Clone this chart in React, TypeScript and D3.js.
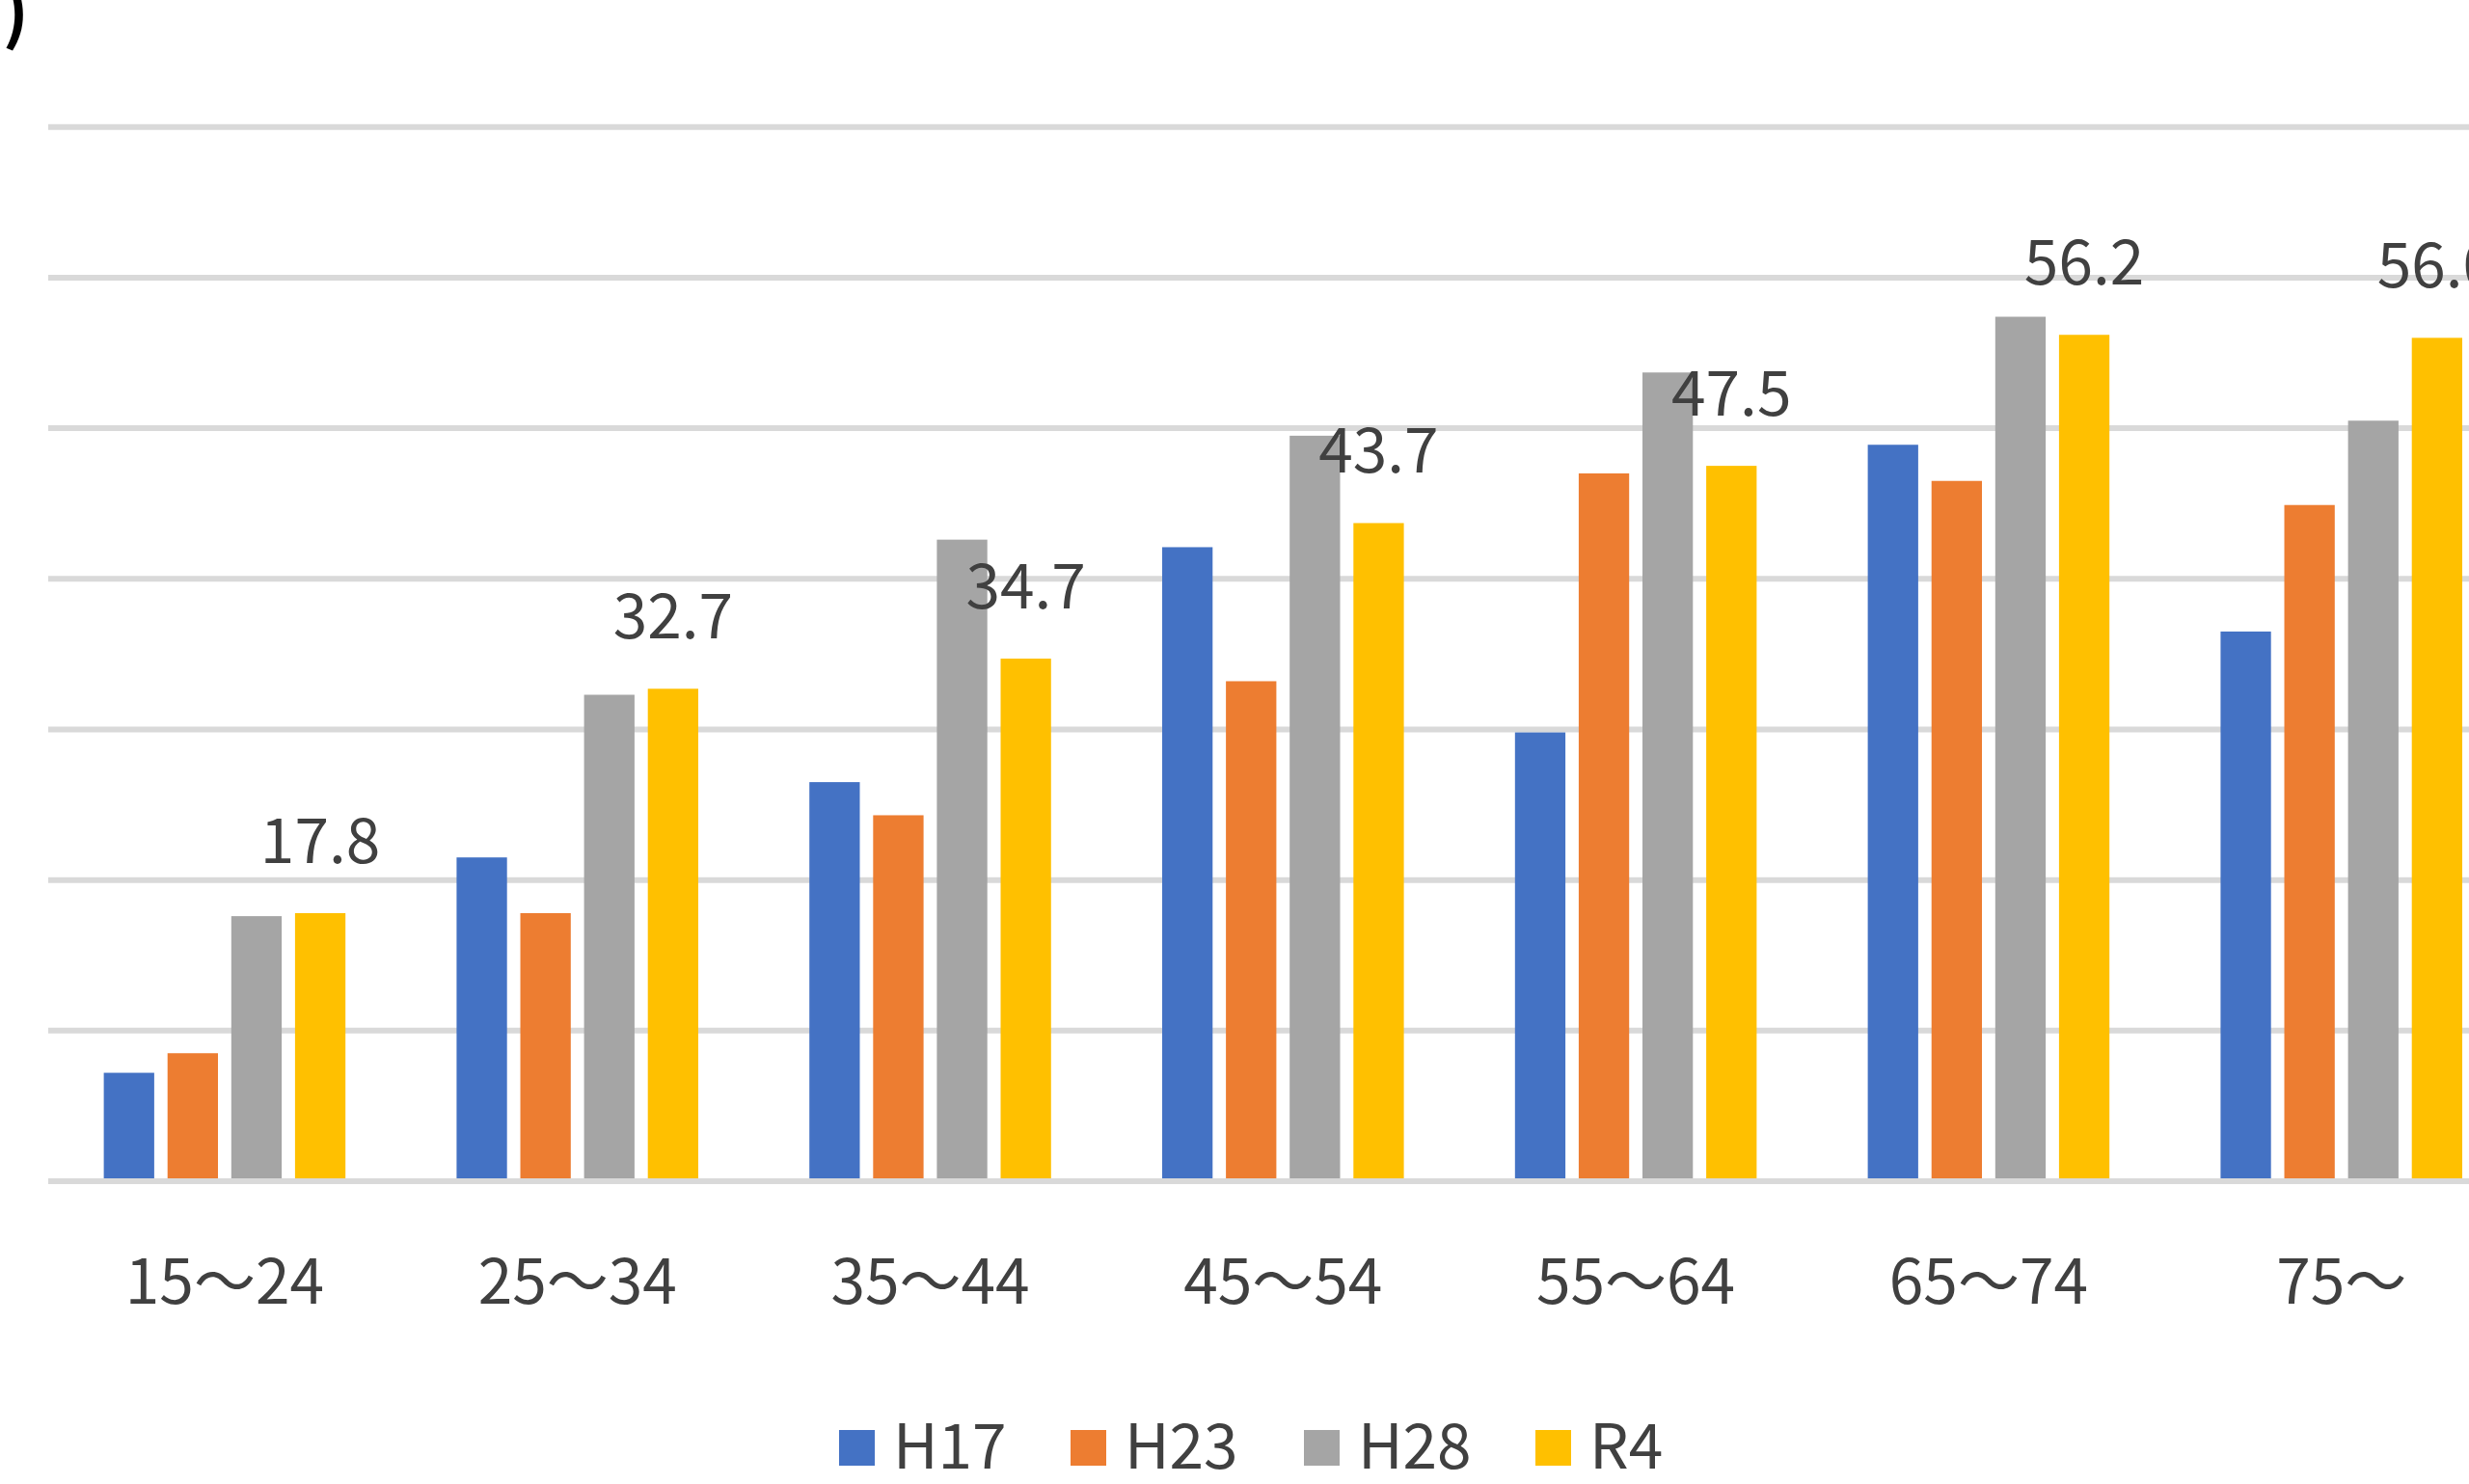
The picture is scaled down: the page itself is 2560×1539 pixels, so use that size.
import * as d3 from 'd3'

const AGE_GROUPS = ['15～24', '25～34', '35～44', '45～54', '55～64', '65～74', '75～']
const SERIES = ['H17', 'H23', 'H28', 'R4'] as const
type Series = typeof SERIES[number]

const H17 = [7.2, 21.5, 26.5, 42.1, 29.8, 48.9, 36.5]
const H23 = [8.5, 17.8, 24.3, 33.2, 47.0, 46.5, 44.9]
const H28 = [17.6, 32.3, 42.6, 49.5, 53.7, 57.4, 50.5]
const R4 = [17.8, 32.7, 34.7, 43.7, 47.5, 56.2, 56.0]
const Y_TICKS = [0, 10, 20, 30, 40, 50, 60, 70]

const VALUES: Record<Series, number[]> = { H17, H23, H28, R4 }

const COLORS: Record<Series, string> = {
  H17: '#4472C4',
  H23: '#ED7D31',
  H28: '#A5A5A5',
  R4: '#FFC000',
}

const WIDTH = 2560
const HEIGHT = 1539
const PLOT_LEFT = 50
const BAND_STEP = 365.8
const Y_TOP = 131.7
const Y_BASE = 1225
const FONT = '"Noto Sans CJK JP", "Noto Sans", sans-serif'
const TEXT = '#404040'

export default function App() {
  const x = d3
    .scaleBand<string>()
    .domain(AGE_GROUPS)
    .range([PLOT_LEFT, PLOT_LEFT + BAND_STEP * AGE_GROUPS.length])
    .paddingInner(0.315)
    .paddingOuter(0.1575)

  const xInner = d3
    .scaleBand<string>()
    .domain([...SERIES])
    .range([0, x.bandwidth()])
    .paddingInner(0.209)
    .paddingOuter(0)

  const y = d3.scaleLinear().domain([0, 70]).range([Y_BASE, Y_TOP])

  // legend layout: square + label, items spread evenly
  const legendX = [870, 1110, 1352, 1592]

  return (
    <svg
      width={WIDTH}
      height={HEIGHT}
      style={{ position: 'absolute', left: 0, top: 0, background: '#fff' }}
      fontFamily={FONT}
    >
      <rect width={WIDTH} height={HEIGHT} fill="#fff" />

      {/* panel tag, mostly cut off at the left edge */}
      <text x={30} y={38} textAnchor="end" fontSize={72} fontWeight="bold" fill="#000">
        (b)
      </text>

      {/* gridlines */}
      {Y_TICKS.map(t => (
        <line
          key={t}
          x1={PLOT_LEFT}
          x2={WIDTH + 20}
          y1={y(t)}
          y2={y(t)}
          stroke="#D9D9D9"
          strokeWidth={6}
        />
      ))}

      {/* bars */}
      {AGE_GROUPS.map((g, i) => (
        <g key={g} transform={`translate(${x(g)},0)`}>
          {SERIES.map(s => {
            const v = VALUES[s][i]
            return (
              <rect
                key={s}
                x={xInner(s)}
                y={y(v)}
                width={xInner.bandwidth()}
                height={Y_BASE - 3 - y(v)}
                fill={COLORS[s]}
              />
            )
          })}
        </g>
      ))}

      {/* data labels for R4 */}
      {AGE_GROUPS.map((g, i) => (
        <text
          key={g}
          x={(x(g) ?? 0) + (xInner('R4') ?? 0) + xInner.bandwidth() / 2}
          y={y(R4[i]) - 52}
          textAnchor="middle"
          fontSize={64}
          fill={TEXT}
        >
          {R4[i].toFixed(1)}
        </text>
      ))}

      {/* category axis labels */}
      {AGE_GROUPS.map(g => (
        <text
          key={g}
          x={(x(g) ?? 0) + x.bandwidth() / 2}
          y={1352}
          textAnchor="middle"
          fontSize={64}
          fill={TEXT}
        >
          {g}
        </text>
      ))}

      {/* legend */}
      {SERIES.map((s, i) => (
        <g key={s} transform={`translate(${legendX[i]},0)`}>
          <rect x={0} y={1483} width={37} height={37} fill={COLORS[s]} />
          <text x={56} y={1523} fontSize={64} fill={TEXT}>
            {s}
          </text>
        </g>
      ))}
    </svg>
  )
}
